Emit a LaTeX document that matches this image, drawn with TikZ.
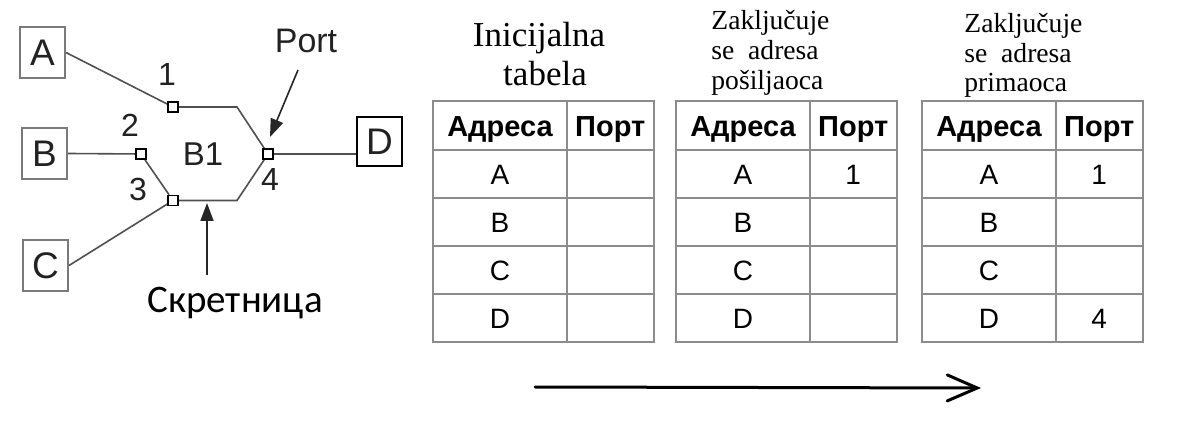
\documentclass[tikz,border=0pt]{standalone}
\usepackage{fontspec}
\setmainfont{Liberation Serif}
\newfontfamily\helv{Liberation Sans}
\newfontfamily\carl{Carlito}
\usetikzlibrary{arrows.meta,backgrounds}
\newcommand\fsz[1]{\fontsize{#1}{#1}\selectfont}
\definecolor{linegray}{HTML}{505050}
\definecolor{boxgray}{HTML}{7A7A7A}
\definecolor{gridgray}{HTML}{8C8C8C}
\definecolor{txt}{HTML}{222222}
\tikzset{
  host/.style={draw=boxgray, line width=1pt, minimum width=22.5pt, minimum height=25.5pt, inner sep=0, font=\helv\fsz{18.5pt}, text=txt},
  port/.style={draw=black, fill=white, line width=0.7pt, minimum size=5pt, inner sep=0},
  lbl/.style={font=\helv\fsz{16pt}, text=txt, inner sep=0},
  wire/.style={draw=linegray, line width=0.8pt},
  ptr/.style={draw=black!85, line width=0.8pt, -{Triangle[length=9pt,width=6.5pt]}},
  hdr/.style={font=\helv\bfseries\fsz{14.5pt}, inner sep=0, anchor=base},
  cell/.style={font=\helv\fsz{14pt}, inner sep=0, anchor=base},
  gridline/.style={draw=gridgray, line width=1pt},
  ttl/.style={font=\fsz{17.5pt}, anchor=base, inner sep=0},
  subttl/.style={font=\fsz{13.8pt}, anchor=base west, inner sep=0},
  bigarrow/.style={draw=black, line width=1.5pt, line cap=round, -{Straight Barb[length=15pt,width=13pt,line cap=round]}}
}
\newcommand\addrtable[4]{%
  \begin{scope}[shift={(#2,0)}]
    \draw[gridline] (0,101.5) rectangle (220.5,342);
    \draw[gridline] (134,101.5) -- (134,342);
    \foreach \yy in {150,198,246,294} \draw[gridline] (0,\yy) -- (220.5,\yy);
    \node[hdr] (#1h1) at (67,137) {Адреса};
    \node[hdr] (#1h2) at (177.25,137) {Порт};
    \node[cell] (#1a) at (67,185) {A};
    \node[cell] (#1b) at (67,233) {B};
    \node[cell] (#1c) at (67,281) {C};
    \node[cell] (#1d) at (67,329) {D};
    \node[cell] (#1pa) at (177.25,185) {#3};
    \node[cell] (#1pd) at (177.25,329) {#4};
  \end{scope}}
\begin{document}
\begin{tikzpicture}[x=0.5pt,y=-0.5pt]
\useasboundingbox (0,0) rectangle (1181,426);
% hosts
\node[host] (A) at (42.5,52.5) {A};
\node[host] (B) at (44.5,153.5) {B};
\node[host] (C) at (45.5,265.5) {C};
\node[host, draw=black, minimum height=24.5pt] (D) at (379.5,141.5) {D};
% ports
\node[port] (p1) at (173,107) {};
\node[port] (p2) at (141,154) {};
\node[port] (p3) at (173,200.5) {};
\node[port] (p4) at (268,154) {};
\coordinate (hx1) at (237,107);
\coordinate (hx2) at (237,200.5);
\begin{scope}[on background layer]
  \draw[wire] (p1) -- (hx1) -- (p4) -- (hx2) -- (p3) -- (p2) -- cycle;
  \draw[wire] (A.east) -- (p1);
  \draw[wire] (B.east) -- (p2);
  \draw[wire] (C.east) -- (p3);
  \draw[wire] (p4) -- (p4 -| D.west);
\end{scope}
% labels
\node[lbl] (l1) at (167,74) {1};
\node[lbl] (l2) at (130,125) {2};
\node[lbl] (l3) at (138,189) {3};
\node[lbl] (l4) at (270,179) {4};
\node[lbl, font=\helv\fsz{16.5pt}] (b1) at (203,154) {B1};
\node[lbl, font=\helv\fsz{17pt}] (port) at (306,41) {Port};
\node[font=\carl\fsz{19.5pt}, anchor=base, inner sep=0] (sw) at (235,313) {Скретница};
\coordinate (pt1) at (298,70);
\coordinate (pt2) at (270,137);
\draw[ptr] (pt1) -- (pt2);
\coordinate (st1) at (207,275);
\coordinate (st2) at (207,203);
\draw[ptr] (st1) -- (st2);
% titles
\node[ttl] (t1a) at (539,47) {Inicijalna};
\node[ttl] (t1b) at (545,86) {tabela};
\node[subttl] (t2a) at (711,29.3) {Zaključuje};
\node[subttl] (t2b) at (711,59.3) {se\ \ adresa};
\node[subttl] (t2c) at (711,89.3) {pošiljaoca};
\node[subttl] (t3a) at (964,32.3) {Zaključuje};
\node[subttl] (t3b) at (964,62.3) {se\ \ adresa};
\node[subttl] (t3c) at (964,91.7) {primaoca};
% tables
\addrtable{ta}{433}{}{}
\addrtable{tb}{676}{1}{}
\addrtable{tc}{922}{1}{4}
% bottom arrow
\coordinate (ar1) at (535,387);
\coordinate (ar2) at (981,388);
\draw[bigarrow] (ar1) -- (ar2);
\end{tikzpicture}
\end{document}
